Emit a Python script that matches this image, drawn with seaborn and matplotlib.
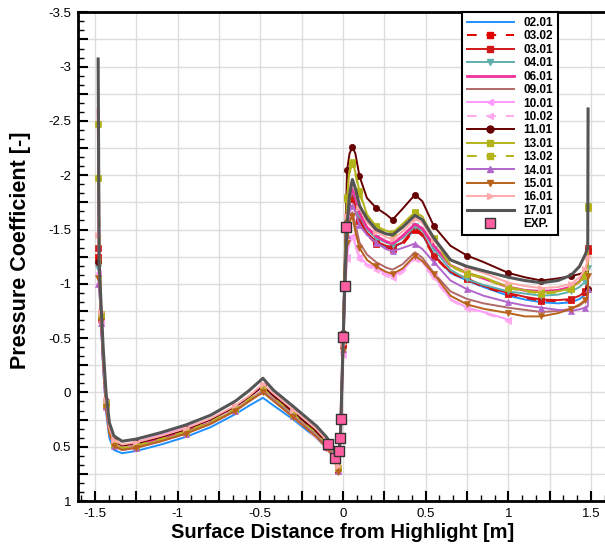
import matplotlib
matplotlib.use("Agg")
import matplotlib.pyplot as plt
from matplotlib.lines import Line2D
from matplotlib.ticker import FixedLocator, MultipleLocator, FuncFormatter
import numpy as np
import pandas as pd
import seaborn as sns

# ---------------- data ----------------
X = [-1.480, -1.474, -1.462, -1.450, -1.432, -1.412, -1.385, -1.335, -1.25, -1.10,
     -0.95, -0.80, -0.65, -0.565, -0.484, -0.42, -0.30, -0.16, -0.10, -0.06,
     -0.03, -0.015, 0.000, 0.012, 0.025, 0.040, 0.057, 0.075, 0.10, 0.145,
     0.20, 0.26, 0.30, 0.36, 0.435, 0.48, 0.55, 0.65, 0.75, 0.85,
     1.00, 1.10, 1.20, 1.30, 1.38, 1.43, 1.465, 1.480, 1.482]

CP_0201 = [-1.05, -1.00, -0.62, -0.22, 0.18, 0.42, 0.53, 0.56, 0.54, 0.48, 0.41, 0.32, 0.20, 0.12, 0.05, 0.12, 0.25, 0.42, 0.51, 0.58, 0.71, 0.44,
           -0.45, -1.05, -1.53, -1.73, -1.79, -1.73, -1.59, -1.46, -1.38, -1.34, -1.33, -1.38, -1.50, -1.45, -1.27, -1.10, -1.03, -0.97, -0.89, -0.855, -0.83, -0.82, -0.83, -0.86, -0.90, -0.98, -1.05]
CP_0302 = [-1.25, -1.10, -0.68, -0.30, 0.12, 0.37, 0.47, 0.51, 0.49, 0.43, 0.36, 0.27, 0.15, 0.06, -0.03, 0.05, 0.20, 0.38, 0.48, 0.56, 0.71, 0.43,
           -0.44, -1.04, -1.52, -1.72, -1.78, -1.72, -1.58, -1.45, -1.37, -1.33, -1.32, -1.36, -1.50, -1.44, -1.25, -1.10, -1.04, -0.97, -0.905, -0.87, -0.845, -0.84, -0.85, -0.88, -0.92, -1.04, -1.30]
CP_0301 = [-1.33, -1.15, -0.70, -0.32, 0.10, 0.35, 0.46, 0.50, 0.48, 0.42, 0.35, 0.26, 0.14, 0.05, -0.05, 0.04, 0.19, 0.37, 0.47, 0.55, 0.70, 0.42,
           -0.45, -1.06, -1.55, -1.75, -1.80, -1.74, -1.60, -1.47, -1.39, -1.35, -1.34, -1.38, -1.52, -1.46, -1.26, -1.11, -1.05, -0.98, -0.915, -0.88, -0.855, -0.85, -0.86, -0.89, -0.93, -1.05, -1.33]
CP_0401 = [-1.15, -1.10, -0.68, -0.30, 0.11, 0.36, 0.47, 0.51, 0.49, 0.43, 0.36, 0.27, 0.15, 0.06, -0.03, 0.05, 0.20, 0.38, 0.48, 0.56, 0.70, 0.42,
           -0.45, -1.07, -1.56, -1.78, -1.85, -1.78, -1.63, -1.50, -1.42, -1.38, -1.36, -1.42, -1.53, -1.49, -1.32, -1.13, -1.04, -0.99, -0.93, -0.91, -0.89, -0.90, -0.93, -0.97, -1.02, -1.10, -1.15]
CP_0601 = [-2.60, -1.15, -0.70, -0.32, 0.12, 0.36, 0.46, 0.50, 0.48, 0.42, 0.35, 0.26, 0.13, 0.04, -0.06, 0.03, 0.18, 0.36, 0.46, 0.55, 0.69, 0.41,
           -0.45, -1.08, -1.58, -1.80, -1.87, -1.80, -1.65, -1.52, -1.44, -1.39, -1.37, -1.44, -1.55, -1.51, -1.35, -1.17, -1.10, -1.05, -0.97, -0.94, -0.93, -0.94, -0.97, -1.02, -1.10, -1.20, -1.30]
CP_0901 = [-1.05, -1.05, -0.66, -0.28, 0.12, 0.37, 0.48, 0.52, 0.50, 0.44, 0.37, 0.28, 0.16, 0.07, -0.02, 0.06, 0.21, 0.39, 0.49, 0.57, 0.72, 0.44,
           -0.40, -0.92, -1.40, -1.60, -1.66, -1.55, -1.38, -1.27, -1.20, -1.15, -1.13, -1.18, -1.29, -1.24, -1.10, -0.93, -0.86, -0.82, -0.78, -0.76, -0.74, -0.75, -0.77, -0.80, -0.84, -0.88, -0.90]
CP_1001 = [-1.10, -1.05, -0.66, -0.28, 0.10, 0.35, 0.46, 0.50, 0.46, 0.39, 0.32, 0.25, 0.14, 0.05, -0.04, 0.06, 0.22, 0.41, 0.51, 0.58, 0.71, 0.45,
           -0.35, -0.85, -1.25, -1.40, -1.44, -1.36, -1.25, -1.18, -1.15, -1.09, -1.07, -1.12, -1.25, -1.20, -1.07, -0.86, -0.78, -0.74, -0.67]
CP_1002 = [-1.00, -1.00, -0.64, -0.26, 0.12, 0.37, 0.47, 0.51, 0.47, 0.40, 0.33, 0.26, 0.15, 0.06, -0.03, 0.07, 0.23, 0.42, 0.52, 0.59, 0.72, 0.46,
           -0.34, -0.84, -1.23, -1.38, -1.42, -1.34, -1.23, -1.16, -1.13, -1.07, -1.05, -1.10, -1.23, -1.18, -1.05, -0.85, -0.77, -0.73, -0.66]
CP_1101 = [-1.20, -1.15, -0.72, -0.34, 0.08, 0.34, 0.45, 0.49, 0.47, 0.41, 0.34, 0.25, 0.13, 0.04, -0.06, 0.03, 0.18, 0.36, 0.46, 0.54, 0.69, 0.41,
           -0.55, -1.30, -2.05, -2.20, -2.26, -2.20, -1.99, -1.79, -1.70, -1.64, -1.59, -1.69, -1.82, -1.76, -1.53, -1.35, -1.26, -1.20, -1.10, -1.06, -1.03, -1.05, -1.07, -1.09, -1.11, -1.12, -0.95]
CP_1301 = [-2.47, -1.19, -0.70, -0.32, 0.11, 0.37, 0.48, 0.52, 0.50, 0.44, 0.37, 0.28, 0.16, 0.07, -0.02, 0.06, 0.21, 0.39, 0.49, 0.56, 0.70, 0.43,
           -0.50, -1.20, -1.80, -2.05, -2.12, -2.03, -1.85, -1.64, -1.53, -1.49, -1.47, -1.55, -1.66, -1.62, -1.42, -1.17, -1.10, -1.06, -0.97, -0.94, -0.92, -0.93, -0.96, -1.02, -1.08, -1.12, -1.72]
CP_1302 = [-1.97, -1.74, -0.72, -0.33, 0.10, 0.36, 0.47, 0.51, 0.49, 0.43, 0.36, 0.27, 0.15, 0.06, -0.03, 0.05, 0.20, 0.38, 0.48, 0.56, 0.70, 0.43,
           -0.49, -1.19, -1.78, -2.03, -2.10, -2.01, -1.83, -1.63, -1.52, -1.48, -1.46, -1.54, -1.65, -1.61, -1.41, -1.16, -1.09, -1.05, -0.96, -0.93, -0.91, -0.92, -0.95, -1.01, -1.07, -1.12, -1.70]
CP_1401 = [-1.00, -1.00, -0.64, -0.26, 0.13, 0.38, 0.49, 0.53, 0.51, 0.45, 0.38, 0.29, 0.17, 0.08, -0.01, 0.07, 0.22, 0.40, 0.50, 0.57, 0.72, 0.44,
           -0.40, -0.95, -1.45, -1.66, -1.72, -1.66, -1.54, -1.45, -1.38, -1.32, -1.30, -1.33, -1.37, -1.32, -1.20, -1.03, -0.95, -0.89, -0.83, -0.80, -0.78, -0.76, -0.75, -0.765, -0.78, -0.79, -0.95]
CP_1501 = [-1.05, -1.05, -0.66, -0.28, 0.13, 0.38, 0.49, 0.53, 0.51, 0.45, 0.38, 0.29, 0.17, 0.08, 0.00, 0.08, 0.23, 0.41, 0.51, 0.59, 0.73, 0.45,
           -0.38, -0.90, -1.38, -1.57, -1.62, -1.48, -1.33, -1.22, -1.16, -1.11, -1.09, -1.14, -1.26, -1.21, -1.09, -0.89, -0.81, -0.77, -0.73, -0.70, -0.70, -0.73, -0.77, -0.81, -0.85, -0.90, -1.07]
CP_1601 = [-1.45, -1.20, -0.74, -0.36, 0.07, 0.33, 0.44, 0.48, 0.46, 0.40, 0.33, 0.24, 0.12, 0.03, -0.08, 0.01, 0.16, 0.34, 0.44, 0.53, 0.68, 0.40,
           -0.45, -1.10, -1.62, -1.85, -1.92, -1.85, -1.70, -1.57, -1.48, -1.43, -1.41, -1.48, -1.60, -1.56, -1.40, -1.22, -1.15, -1.10, -1.01, -0.98, -0.96, -0.97, -1.00, -1.06, -1.14, -1.22, -1.25]
CP_1701 = [-3.07, -1.20, -0.80, -0.42, 0.01, 0.28, 0.40, 0.45, 0.43, 0.37, 0.30, 0.21, 0.08, -0.02, -0.13, -0.02, 0.13, 0.31, 0.41, 0.50, 0.64, 0.40,
           -0.40, -1.05, -1.55, -1.82, -1.96, -1.88, -1.72, -1.60, -1.50, -1.46, -1.45, -1.52, -1.63, -1.59, -1.42, -1.22, -1.16, -1.12, -1.06, -1.03, -1.01, -1.03, -1.08, -1.16, -1.27, -1.33, -2.61]

EXP_X = [-0.09, -0.048, -0.024, -0.016, -0.010, 0.000, 0.010, 0.020]
EXP_CP = [0.475, 0.60, 0.537, 0.42, 0.245, -0.513, -0.98, -1.526]

LABELS = ["02.01", "03.02", "03.01", "04.01", "06.01", "09.01", "10.01", "10.02",
          "11.01", "13.01", "13.02", "14.01", "15.01", "16.01", "17.01"]
SERIES = [CP_0201, CP_0302, CP_0301, CP_0401, CP_0601, CP_0901, CP_1001, CP_1002,
          CP_1101, CP_1301, CP_1302, CP_1401, CP_1501, CP_1601, CP_1701]

# ---------------- styles ----------------
COLORS = ["#1E90FF", "#E00000", "#D01818", "#5FAFAF", "#F2309A", "#B06868", "#FF99FF", "#FFAAEE",
          "#660000", "#B3B31A", "#B3B31A", "#B266CC", "#B8621B", "#FFAAAA", "#555555"]
MARKERS = [None, "s", "s", "v", None, None, "<", "<", "o", "s", "s", "^", "v", ">", None]
LSTYLES = ["-", (0, (5, 5)), "-", "-", "-", "-", "-", (0, (5, 5)), "-", "-", (0, (5, 5)), "-", "-", "-", "-"]
LWIDTHS = [1.4, 1.4, 1.4, 1.4, 2.0, 1.4, 1.4, 1.4, 1.4, 1.4, 1.4, 1.4, 1.4, 1.4, 2.2]

plt.rcParams["font.family"] = ["Liberation Sans", "DejaVu Sans"]
plt.rcParams["axes.unicode_minus"] = False

fig = plt.figure(figsize=(6.05, 5.46), dpi=100)
ax = fig.add_axes([78.3 / 605, 45 / 546, (607.6 - 78.3) / 605, (501 - 12.3) / 546])

ax.grid(True, which="major", color="#DDDDDD", lw=1.0, zorder=0)
ax.set_axisbelow(True)

handles = []
for lab, vals, c, m, ls, lw in zip(LABELS, SERIES, COLORS, MARKERS, LSTYLES, LWIDTHS):
    xs = X[:len(vals)]
    df = pd.DataFrame({"x": xs, "cp": vals})
    kw = dict(color=c, linestyle=ls, lw=lw, zorder=3)
    if m is not None:
        kw.update(marker=m, markersize=4.5, markevery=2, mec=c, mfc=c, mew=0.5)
    sns.lineplot(data=df, x="x", y="cp", ax=ax, sort=False, estimator=None, **kw)
    handles.append(Line2D([], [], color=c, linestyle=ls, lw=lw, marker=m if m else "None",
                          markersize=5, mfc=c, mec=c, label=lab))

exp_df = pd.DataFrame({"x": EXP_X, "cp": EXP_CP})
sns.scatterplot(data=exp_df, x="x", y="cp", ax=ax, marker="s", s=50, color="#FF5FA2",
                edgecolor="#333333", linewidth=1.0, zorder=5)
handles.append(Line2D([], [], linestyle="None", marker="s", markersize=7, mfc="#FF5FA2",
                      mec="#333333", mew=1.0, label="EXP."))

ax.set_xlim(-1.6, 1.6)
ax.set_ylim(1.0, -3.5)


def fmt(v, pos):
    if abs(v * 2 - round(v * 2)) > 1e-6:
        return ""
    s = ("%g" % round(v, 2))
    return "0" if s in ("-0", "0") else s


ax.xaxis.set_major_locator(FixedLocator(np.arange(-1.5, 1.51, 0.25)))
ax.yaxis.set_major_locator(FixedLocator(np.arange(-3.5, 1.01, 0.25)))
ax.xaxis.set_minor_locator(MultipleLocator(0.25 / 3))
ax.yaxis.set_minor_locator(MultipleLocator(0.25 / 3))
ax.xaxis.set_major_formatter(FuncFormatter(fmt))
ax.yaxis.set_major_formatter(FuncFormatter(fmt))
ax.tick_params(which="major", direction="in", length=7, width=1.5, labelsize=9.5, pad=5,
               top=False, right=False)
ax.tick_params(which="minor", direction="in", length=4, width=1.0, top=False, right=False)

for side in ["left", "bottom", "top"]:
    ax.spines[side].set_linewidth(2.0)
    ax.spines[side].set_color("black")
ax.spines["right"].set_visible(False)

ax.set_xlabel("Surface Distance from Highlight [m]", fontsize=14.5, fontweight="bold")
ax.set_ylabel("Pressure Coefficient [-]", fontsize=15.5, fontweight="bold")
ax.xaxis.set_label_coords(0.5, -0.046)
ax.yaxis.set_label_coords(-0.09, 0.514)

leg = ax.legend(handles=handles, loc="upper right", bbox_to_anchor=(0.906, 1.0),
                borderaxespad=0, prop={"weight": "bold", "size": 8.5},
                handlelength=4.0, handletextpad=0.8, labelspacing=0.12,
                fancybox=False, framealpha=1, edgecolor="black", borderpad=0.4)
leg.get_frame().set_linewidth(1.5)
leg.set_zorder(10)

fig.savefig("out.png", dpi=100)
